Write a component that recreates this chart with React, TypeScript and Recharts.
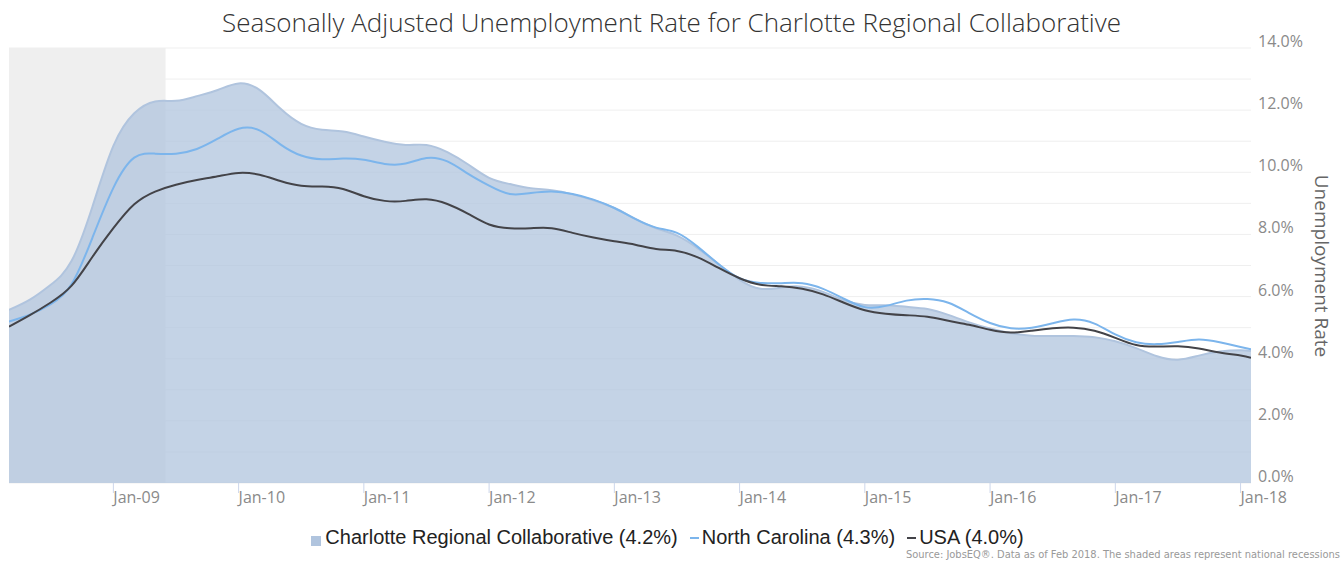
import React from 'react';
import { ComposedChart, Area, Line, XAxis, YAxis, CartesianGrid, ReferenceArea } from 'recharts';

// months counted from Jan-08 (0 = Jan-08), every second month from Mar-08, last point Feb-18
const periods: number[] = Array.from({ length: 60 }, (_, i) => 2 + 2 * i).concat([121]);

const charlotte = [
    5.57, 5.9, 6.38, 7.15, 8.9, 10.85, 11.9, 12.28, 12.3, 12.45,
    12.65, 12.86, 12.65, 12.05, 11.56, 11.37, 11.31, 11.15, 10.98, 10.88,
    10.88, 10.65, 10.25, 9.82, 9.62, 9.49, 9.42, 9.29, 9.1, 8.85,
    8.5, 8.2, 7.96, 7.55, 7.04, 6.54, 6.25, 6.29, 6.32, 6.15,
    5.88, 5.73, 5.72, 5.67, 5.6, 5.41, 5.17, 4.97, 4.82, 4.74,
    4.73, 4.73, 4.69, 4.56, 4.34, 4.08, 3.97, 4.1, 4.23, 4.27,
    4.25,
];

const northCarolina = [
    5.2, 5.42, 5.76, 6.4, 7.9, 9.5, 10.47, 10.6, 10.6, 10.75,
    11.08, 11.4, 11.35, 10.9, 10.54, 10.42, 10.44, 10.4, 10.27, 10.28,
    10.46, 10.35, 9.95, 9.57, 9.3, 9.33, 9.38, 9.3, 9.12, 8.85,
    8.5, 8.22, 8.05, 7.6, 7.04, 6.59, 6.44, 6.43, 6.43, 6.25,
    5.93, 5.66, 5.7, 5.87, 5.92, 5.8, 5.47, 5.15, 4.98, 5.0,
    5.14, 5.26, 5.13, 4.78, 4.53, 4.47, 4.54, 4.62, 4.53, 4.38,
    4.3,
];

const usa = [
    5.03, 5.4, 5.81, 6.35, 7.28, 8.2, 8.97, 9.38, 9.6, 9.75,
    9.87, 9.98, 9.92, 9.72, 9.57, 9.54, 9.46, 9.23, 9.08, 9.08,
    9.13, 8.98, 8.66, 8.32, 8.2, 8.2, 8.2, 8.05, 7.9, 7.78,
    7.67, 7.53, 7.47, 7.26, 6.92, 6.59, 6.38, 6.33, 6.25, 6.07,
    5.8, 5.56, 5.45, 5.4, 5.35, 5.22, 5.09, 4.93, 4.84, 4.9,
    4.98, 5.0, 4.9, 4.67, 4.44, 4.39, 4.4, 4.33, 4.2, 4.1,
    4.03,
];

const yearTicks = [12, 24, 36, 48, 60, 72, 84, 96, 108, 120];
const yearLabels = ['Jan-09', 'Jan-10', 'Jan-11', 'Jan-12', 'Jan-13', 'Jan-14', 'Jan-15', 'Jan-16', 'Jan-17', 'Jan-18'];
const rateTicks = [0, 1, 2, 3, 4, 5, 6, 7, 8, 9, 10, 11, 12, 13, 14];
const recession = [2, 17]; // Mar-08 .. Jun-09

const data = periods.map((m, i) => ({
    m,
    charlotte: charlotte[i],
    nc: northCarolina[i],
    usa: usa[i],
}));

const XTick = (props: any) => {
    const { x, y, payload } = props;
    const idx = yearTicks.indexOf(payload.value);
    return (
        <text x={x} y={y + 8} fill="#8a8a8a" fontSize={16} fontFamily="'Open Sans', sans-serif" textAnchor="start">
            {yearLabels[idx]}
        </text>
    );
};

const YTick = (props: any) => {
    const { x, y, payload } = props;
    if (payload.value % 2 !== 0) return <g />;
    return (
        <text x={x} y={y - 1} fill="#8a8a8a" fontSize={16} fontFamily="'Open Sans', sans-serif" textAnchor="start">
            {payload.value.toFixed(1)}%
        </text>
    );
};

export default function App() {
    return (
        <div style={{ position: 'absolute', left: 0, top: 0, width: 1343, height: 561, background: '#fff', overflow: 'hidden' }}>
            <div style={{
                position: 'absolute', top: 3, left: 0, width: 1343, textAlign: 'center',
                fontFamily: "'Open Sans', sans-serif", fontWeight: 300, fontSize: 26, color: '#333', lineHeight: '38px',
            }}>
                Seasonally Adjusted Unemployment Rate for Charlotte Regional Collaborative
            </div>

            <ComposedChart
                width={1343}
                height={561}
                data={data}
                margin={{ top: 48, right: 0, bottom: 0, left: 9 }}
            >
                <CartesianGrid vertical={false} stroke="#efefef" />
                <ReferenceArea x1={recession[0]} x2={recession[1]} y1={0} y2={14} fill="#efefef" fillOpacity={1} stroke="none" zIndex={-50} />
                <XAxis
                    dataKey="m"
                    type="number"
                    domain={[2, 121]}
                    ticks={yearTicks}
                    height={78}
                    axisLine={false}
                    tickSize={10}
                    tickLine={{ stroke: '#ccd6eb' }}
                    tick={<XTick />}
                    interval={0}
                    allowDataOverflow
                />
                <YAxis
                    orientation="right"
                    domain={[0, 14]}
                    ticks={rateTicks}
                    width={92}
                    axisLine={false}
                    tickLine={false}
                    tickSize={5}
                    tickMargin={2}
                    tick={<YTick />}
                    interval={0}
                />
                <Area
                    type="natural"
                    dataKey="charlotte"
                    stroke="#b0c4de"
                    strokeWidth={2}
                    fill="#b0c4de"
                    fillOpacity={0.75}
                    dot={false}
                    activeDot={false}
                    isAnimationActive={false}
                />
                <Line type="natural" dataKey="nc" stroke="#7cb5ec" strokeWidth={2} dot={false} activeDot={false} isAnimationActive={false} />
                <Line type="natural" dataKey="usa" stroke="#434348" strokeWidth={2} dot={false} activeDot={false} isAnimationActive={false} />
            </ComposedChart>

            <div style={{
                position: 'absolute', left: 1322 - 100, top: 266 - 12, width: 200, height: 24, lineHeight: '24px',
                textAlign: 'center', transform: 'rotate(90deg)', fontFamily: "'Open Sans', sans-serif",
                fontSize: 19, color: '#666',
            }}>
                Unemployment Rate
            </div>

            <div style={{
                position: 'absolute', top: 526, left: -4, width: 1343, display: 'flex', justifyContent: 'center',
                alignItems: 'center', fontFamily: "'Liberation Sans', Arial, sans-serif", fontSize: 20, color: '#222',
            }}>
                <span style={{ display: 'inline-block', width: 10, height: 10, background: '#b0c4de', marginTop: 7, marginRight: 4 }} />
                <span>Charlotte Regional Collaborative (4.2%)</span>
                <span style={{ display: 'inline-block', width: 9, height: 2, background: '#7cb5ec', marginLeft: 12, marginRight: 3 }} />
                <span>North Carolina (4.3%)</span>
                <span style={{ display: 'inline-block', width: 9, height: 2, background: '#434348', marginLeft: 12, marginRight: 3 }} />
                <span>USA (4.0%)</span>
            </div>

            <div style={{
                position: 'absolute', top: 548, right: 3, fontFamily: "'Liberation Sans Narrow', 'DejaVu Sans Condensed', sans-serif",
                fontSize: 11, color: '#999',
            }}>
                Source: JobsEQ®. Data as of Feb 2018. The shaded areas represent national recessions
            </div>
        </div>
    );
}
